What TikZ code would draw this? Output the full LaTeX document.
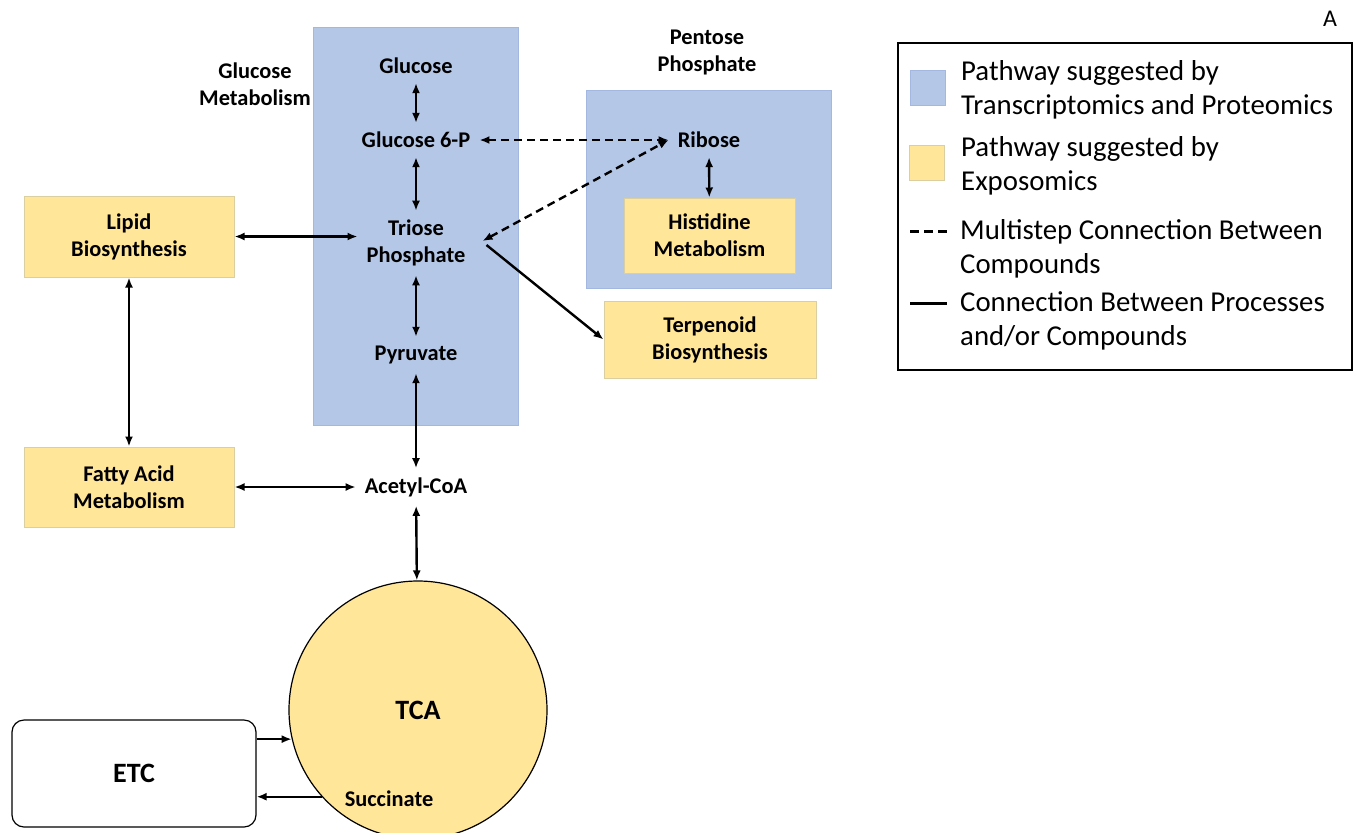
\documentclass[tikz,border=0pt]{standalone}
\usepackage{fontspec}
\setmainfont{Carlito}
\usetikzlibrary{positioning, arrows.meta}
\definecolor{pathblue}{HTML}{B4C7E7}
\definecolor{pathblueline}{HTML}{A2B8E0}
\definecolor{pathyellow}{HTML}{FFE699}
\definecolor{pathyellowline}{HTML}{D9CFA0}

\begin{document}
\begin{tikzpicture}[x=0.5pt, y=-0.5pt, line width=1.2pt, >={Latex[length=5pt,width=4pt]},
		lbl/.style={font=\fontsize{11.2}{13.5}\selectfont\bfseries, align=center, inner sep=4pt},
		yelbox/.style={lbl, fill=pathyellow, draw=pathyellowline, line width=0.5pt},
		legtxt/.style={font=\fontsize{14.4}{17}\selectfont, align=left, anchor=west, inner sep=0pt},
		multistep/.style={dash pattern=on 4pt off 2.5pt}]
		\useasboundingbox (0,0) rectangle (1356,832);

		% pathway areas
		\fill[pathblue, draw=pathblueline, line width=0.5pt] (313,27) rectangle (518,425);
		\fill[pathblue, draw=pathblueline, line width=0.5pt] (586,90) rectangle (831,288);

		\node[lbl] (glc) at (416,66) {Glucose};
		\node[lbl] (g6p) at (416,140) {Glucose 6-P};
		\node[lbl] (tri) at (416,243) {Triose\\Phosphate};
		\node[lbl] (pyr) at (416,355) {Pyruvate};
		\node[lbl] (aca) at (416,487) {Acetyl-CoA};
		\node[lbl] (rib) at (709,140) {Ribose};
		\node[lbl] (glcmet) at (255,84) {Glucose\\Metabolism};
		\node[lbl] (pent) at (707,52) {Pentose\\Phosphate};

		\node[yelbox, minimum width=85.5pt, minimum height=37.5pt] (his) at (709.5,235.5) {Histidine\\Metabolism};
		\node[yelbox, minimum width=106pt, minimum height=38.5pt] (terp) at (710,339.5) {Terpenoid\\Biosynthesis};
		\node[yelbox, minimum width=105pt, minimum height=40.5pt] (lip) at (129,236.5) {Lipid\\Biosynthesis};
		\node[yelbox, minimum width=105pt, minimum height=40pt] (fat) at (129,487) {Fatty Acid\\Metabolism};
		\node[circle, fill=pathyellow, draw=black, line width=0.6pt, minimum size=129pt, inner sep=0pt,
			font=\fontsize{14}{16}\selectfont\bfseries] (tca) at (418,710) {TCA};
		\node[draw=black, line width=0.6pt, rounded corners=6pt, minimum width=122pt, minimum height=53.5pt,
			font=\fontsize{14}{16}\selectfont\bfseries] (etc) at (134,773.5) {ETC};
		\node[lbl] (suc) at (389,799) {Succinate};

		\draw[<->] (glc) -- (g6p);
		\draw[<->] (g6p) -- (tri);
		\draw[<->] (tri) -- (pyr);
		\draw[<->] (pyr) -- (aca);
		\draw[<->] (aca) -- (tca);
		\draw[<->,multistep] (g6p.east) -- (rib.west);
		\draw[<->,multistep] ([xshift=4pt,yshift=1pt]tri.east) -- (rib.west);
		\draw[->] ([xshift=6pt,yshift=-1pt]tri.east) -- (terp.west);
		\draw[<->] (rib) -- (his);
		\draw[<->] (lip.east) -- (lip.east -| tri.west);
		\draw[<->] (lip) -- (fat);
		\draw[<->] (fat.east) -- (aca.west);
		\draw[->] (tca.193 -| etc.east) -- (tca.193);
		\draw[->] (tca.222) -- (tca.222 -| etc.east);

		% legend
		\node[font=\fontsize{12}{14}\selectfont] (lettera) at (1330,19) {A};
		\node[draw=black, line width=0.8pt, minimum width=227pt, minimum height=163.5pt] (legend) at (1125,206.5) {};
		\node[fill=pathblue, draw=pathblueline, line width=0.5pt, minimum size=17.5pt, inner sep=0pt] (swblue) at (928,87.5) {};
		\node[fill=pathyellow, draw=pathyellowline, line width=0.5pt, minimum size=17.5pt, inner sep=0pt] (swyel) at (926.5,162.5) {};
		\node[legtxt] (legblue) at (960,90) {Pathway suggested by\\Transcriptomics and Proteomics};
		\node[legtxt] (legyel) at (960,165.5) {Pathway suggested by\\Exposomics};
		\node[legtxt] (legdash) at (959,248.5) {Multistep Connection Between\\Compounds};
		\node[legtxt] (legsolid) at (959,320.5) {Connection Between Processes\\and/or Compounds};
		\coordinate (dashl) at (910,231);
		\coordinate (solidl) at (910,303);
		\draw[line width=1.5pt, dash pattern=on 4.5pt off 2.5pt] (dashl) -- ++(37,0);
		\draw[line width=1.5pt] (solidl) -- ++(37,0);
	\end{tikzpicture}
\end{document}
